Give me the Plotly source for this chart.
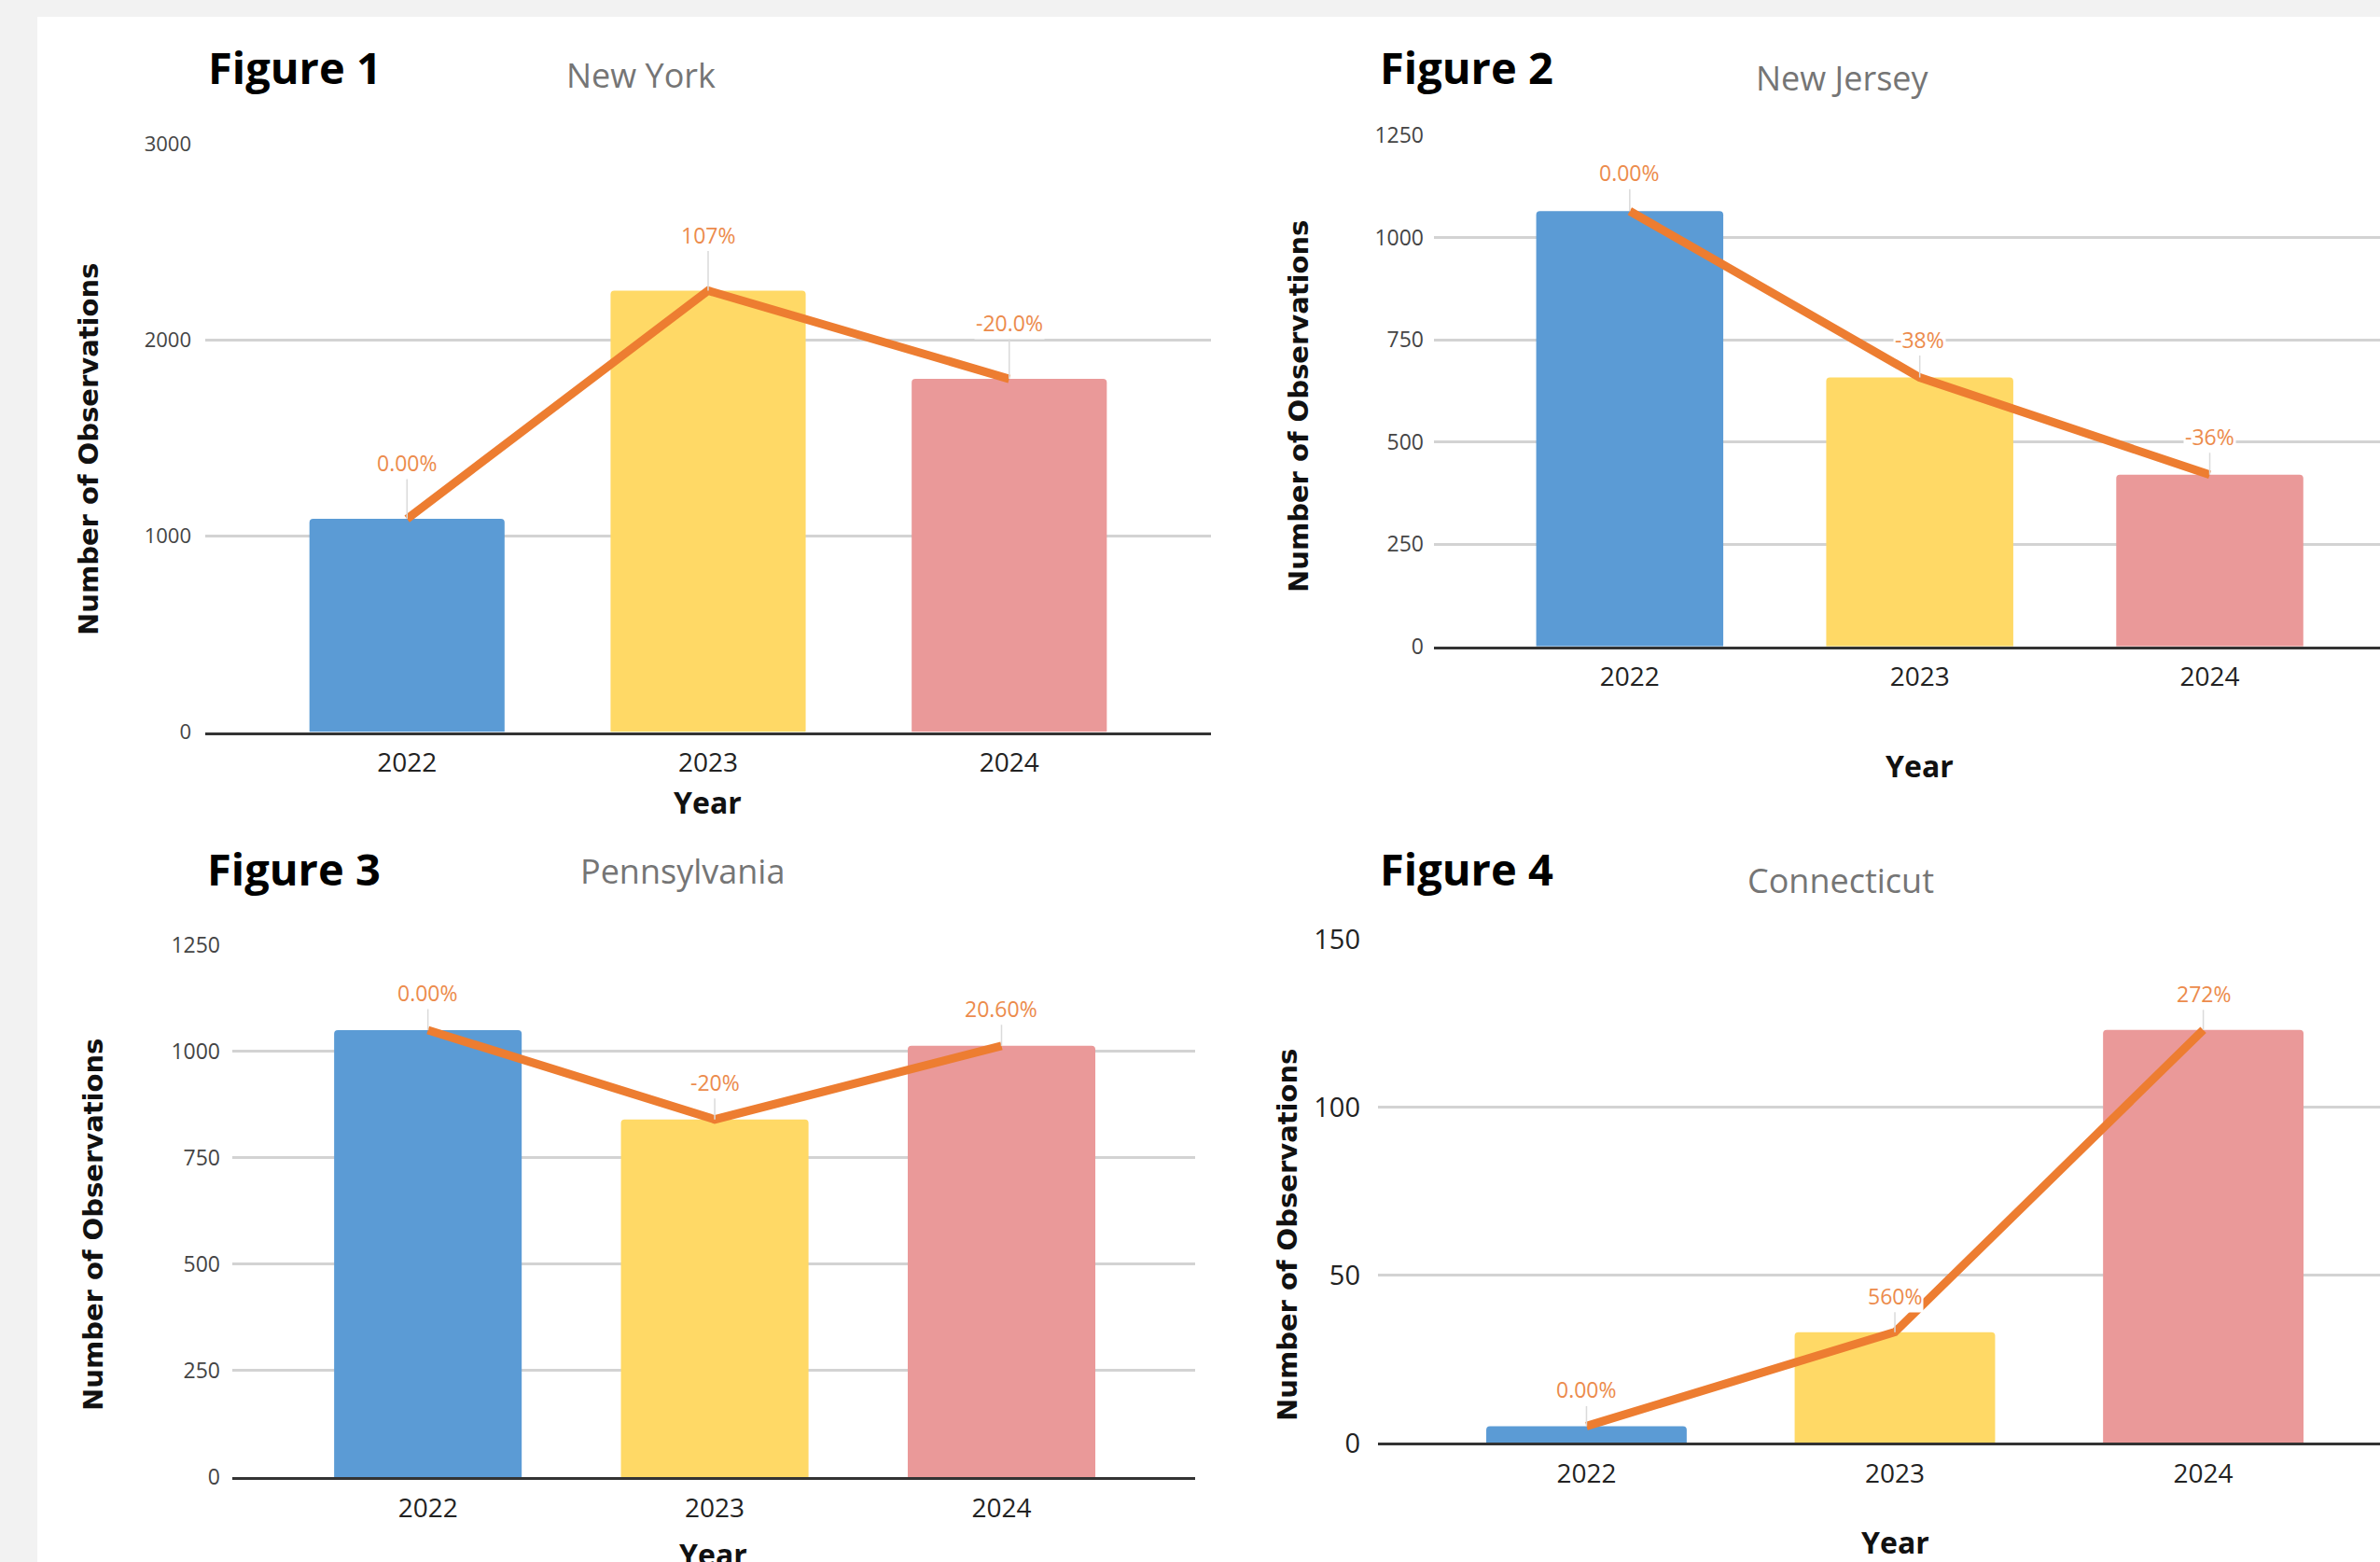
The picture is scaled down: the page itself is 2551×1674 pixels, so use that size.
import plotly.graph_objects as go

# ---- data -------------------------------------------------------------
years = ["2022", "2023", "2024"]
figure_names = ["Figure 1", "Figure 2", "Figure 3", "Figure 4"]
states = ["New York", "New Jersey", "Pennsylvania", "Connecticut"]

ny_counts = [1088, 2252, 1802]
nj_counts = [1065, 658, 420]
pa_counts = [1050, 840, 1013]
ct_counts = [5, 33, 123]

ny_change = ["0.00%", "107%", "-20.0%"]
nj_change = ["0.00%", "-38%", "-36%"]
pa_change = ["0.00%", "-20%", "20.60%"]
ct_change = ["0.00%", "560%", "272%"]

y_title = "Number of Observations"
x_title = "Year"

bar_colors = ["#5B9BD5", "#FFD966", "#EA9999"]
line_color = "#ED7D31"
label_color = "#EC8B4C"

# category slots on a linear x axis, labelled with the years
x_pos = list(range(len(years)))

# ---- page geometry (pixels) ------------------------------------------
W, H = 2551, 1674


def px(x):
    return x / W


def py(y):
    return (H - y) / H


panels = [
    dict(counts=ny_counts, change=ny_change, ymax=3000, dtick=1000,
         xpix=(220, 1298), ypix=(784.6, 154.4), xr=(-0.67, 2.67), bw=0.648,
         tickfont=22, tickcolor="#444", ystand=14, off=60,
         fig_xy=(221, 72), state_xy=(687, 80),
         xt_xy=(758, 859), yt_xy=(95, 482)),
    dict(counts=nj_counts, change=nj_change, ymax=1250, dtick=250,
         xpix=(1537, 2551), ypix=(692.8, 145.2), xr=(-0.675, 2.587), bw=0.645,
         tickfont=23, tickcolor="#444", ystand=10, off=41,
         fig_xy=(1477, 72), state_xy=(1975, 83),
         xt_xy=(2057, 821), yt_xy=(1392, 436)),
    dict(counts=pa_counts, change=pa_change, ymax=1250, dtick=250,
         xpix=(249, 1281), ypix=(1582.9, 1012.7), xr=(-0.682, 2.675), bw=0.654,
         tickfont=23, tickcolor="#444", ystand=12, off=40,
         fig_xy=(220, 931), state_xy=(731, 933),
         xt_xy=(764, 1665), yt_xy=(100, 1313)),
    dict(counts=ct_counts, change=ct_change, ymax=150, dtick=50,
         xpix=(1477, 2551), ypix=(1546.4, 1006.6), xr=(-0.676, 2.573), bw=0.65,
         tickfont=29, tickcolor="#222", ystand=18, off=39,
         fig_xy=(1477, 931), state_xy=(1973, 943),
         xt_xy=(2031, 1652), yt_xy=(1380, 1323)),
]

fig = go.Figure()
annotations = []
layout_axes = {}

for i, p in enumerate(panels, start=1):
    sfx = "" if i == 1 else str(i)
    xa, ya = "x" + sfx, "y" + sfx

    fig.add_trace(go.Bar(
        x=x_pos, y=p["counts"], xaxis=xa, yaxis=ya,
        width=p["bw"], marker=dict(color=bar_colors, line=dict(width=0),
                                   cornerradius=4),
        showlegend=False, hoverinfo="skip",
    ))
    fig.add_trace(go.Scatter(
        x=x_pos, y=p["counts"], xaxis=xa, yaxis=ya, mode="lines",
        line=dict(color=line_color, width=9), showlegend=False,
        hoverinfo="skip",
    ))

    layout_axes["xaxis" + sfx] = dict(
        domain=[px(p["xpix"][0]), px(p["xpix"][1])], anchor=ya,
        range=list(p["xr"]), showgrid=False, zeroline=False,
        tickmode="array", tickvals=x_pos, ticktext=years,
        showline=True, linecolor="#333333", linewidth=3,
        ticks="", ticklabelstandoff=6, automargin=False,
        tickfont=dict(family="Open Sans", size=28, color="#222222"),
        fixedrange=True,
    )
    layout_axes["yaxis" + sfx] = dict(
        domain=[py(p["ypix"][0]), py(p["ypix"][1])], anchor=xa,
        range=[0, p["ymax"]], dtick=p["dtick"], tick0=0,
        showgrid=True, gridcolor="#D3D3D3", gridwidth=2.5,
        zeroline=False, showline=False, ticks="", automargin=False,
        ticklabelstandoff=p["ystand"],
        tickfont=dict(family="Open Sans", size=p["tickfont"], color=p["tickcolor"]),
        fixedrange=True,
    )

    # percentage-change labels with leader lines
    for xp, val, txt in zip(x_pos, p["counts"], p["change"]):
        annotations.append(dict(
            x=xp, y=val, xref=xa, yref=ya, text=txt,
            showarrow=True, arrowhead=0, arrowwidth=1.5, arrowcolor="#DADADA",
            ax=0, ay=-p["off"], standoff=0, bgcolor="white", borderpad=1,
            font=dict(family="Open Sans", size=23, color=label_color),
        ))

    # headings
    fx, fy = p["fig_xy"]
    annotations.append(dict(
        x=px(fx), y=py(fy), xref="paper", yref="paper", xanchor="left",
        yanchor="middle", text=figure_names[i - 1], showarrow=False,
        font=dict(family="Open Sans", size=47, color="#000000", weight="bold"),
    ))
    sx, sy = p["state_xy"]
    annotations.append(dict(
        x=px(sx), y=py(sy), xref="paper", yref="paper", xanchor="center",
        yanchor="middle", text=states[i - 1], showarrow=False,
        font=dict(family="Open Sans", size=36, color="#757575"),
    ))
    tx, ty = p["xt_xy"]
    annotations.append(dict(
        x=px(tx), y=py(ty), xref="paper", yref="paper", xanchor="center",
        yanchor="middle", text=x_title, showarrow=False,
        font=dict(family="Open Sans", size=32, color="#111111", weight="bold"),
    ))
    vx, vy = p["yt_xy"]
    annotations.append(dict(
        x=px(vx), y=py(vy), xref="paper", yref="paper", xanchor="center",
        yanchor="middle", text=y_title, showarrow=False, textangle=-90,
        font=dict(family="DejaVu Sans", size=29, color="#111111", weight="bold"),
    ))

fig.update_layout(
    width=W, height=H, autosize=False,
    margin=dict(l=0, r=0, t=0, b=0, pad=0, autoexpand=False),
    paper_bgcolor="#F2F2F2", plot_bgcolor="rgba(0,0,0,0)",
    annotations=annotations,
    shapes=[dict(type="rect", xref="paper", yref="paper",
                 x0=px(40), x1=1, y0=0, y1=py(18),
                 fillcolor="white", line=dict(width=0), layer="below")],
    **layout_axes,
)

fig.write_html("out.html")
